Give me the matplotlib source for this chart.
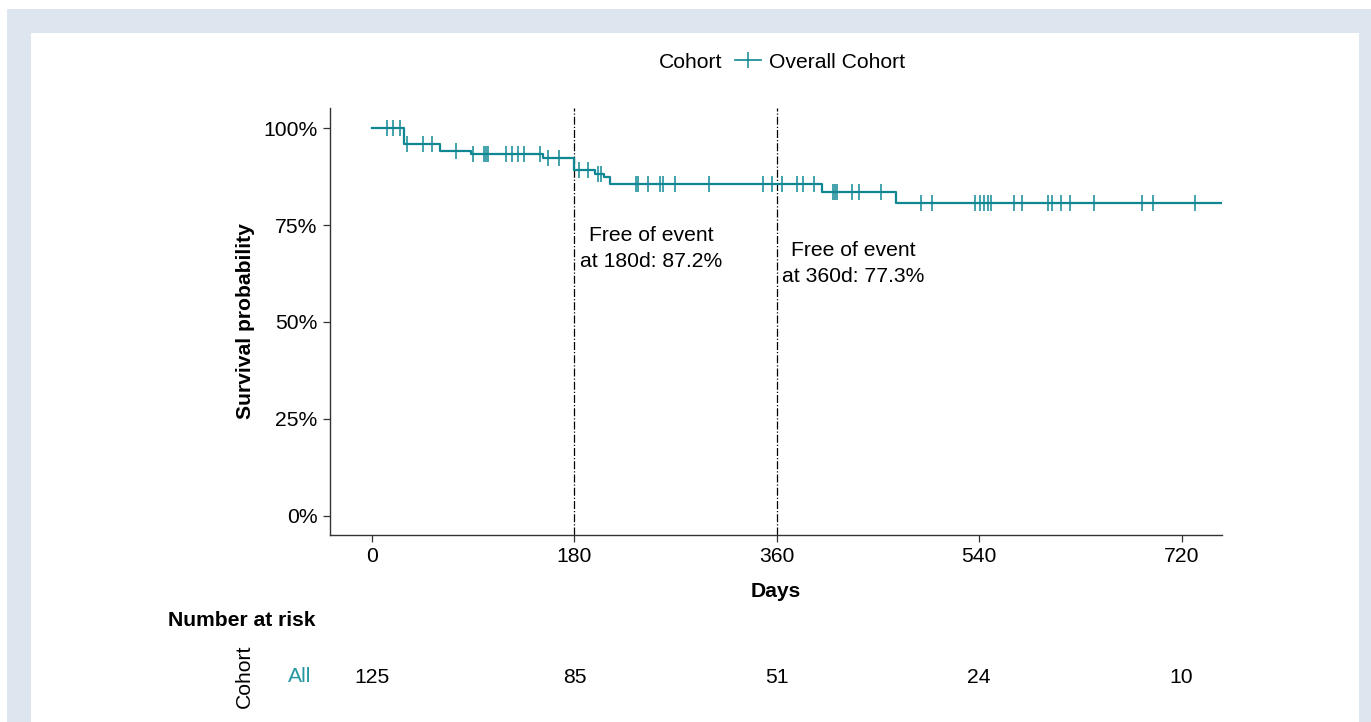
import numpy as np
import matplotlib
matplotlib.use('Agg')
import matplotlib.pyplot as plt
from matplotlib.patches import Rectangle
from matplotlib.ticker import FuncFormatter

plt.rcParams['font.family'] = ['Liberation Sans', 'DejaVu Sans']

# curva de Kaplan-Meier
t_evento = [0, 28.7, 60.5, 88, 152, 180, 198, 206.6, 211.6, 399.8, 465.6]
s_evento = [1.0, 0.958, 0.942, 0.932, 0.924, 0.892, 0.881, 0.874, 0.856, 0.835, 0.806]
t_final = 756

# tiempos censurados
t_censura = [13, 18.5, 24.5, 30.8, 45, 53, 75,
             89.5, 99.6, 101.4, 102.9, 119, 124, 130, 135, 149, 156, 166,
             184, 192, 201, 204,
             234.7, 236.5, 245.7, 256, 259, 269.4, 300, 348, 355.4, 365,
             377.6, 383.5, 393,
             409.6, 411.7, 413.7, 426.5, 432.7, 453,
             488, 497.6, 536, 540.6, 544.5, 548, 550.4, 570.8, 578.5,
             601.3, 604.6, 613.2, 621.2, 641.7, 684.4, 694.4, 731.7]

# tabla de riesgo
t_riesgo = [0, 180, 360, 540, 720]
n_riesgo = [125, 85, 51, 24, 10]

# anotaciones
t_anot = [180, 360]
txt_anot = ['Free of event\nat 180d: 87.2%', 'Free of event\nat 360d: 77.3%']
y_anot = [0.689, 0.650]

color = '#0f8793'
gris = '#333333'
fs = 15.2

fig = plt.figure(figsize=(13.71, 7.22), dpi=100)
fig.patch.set_facecolor('white')
fig.patches.append(Rectangle((7/1371, 0), 1 - 7/1371, 1 - 9/722, transform=fig.transFigure,
                             facecolor='#dde6ef', edgecolor='none', zorder=-10))
fig.patches.append(Rectangle((31/1371, 0), (1359 - 31)/1371, 1 - 33/722, transform=fig.transFigure,
                             facecolor='white', edgecolor='none', zorder=-9))

ax = fig.add_axes([330/1371, 1 - 535/722, (1222 - 330)/1371, (535 - 108)/722])
ax.set_facecolor('none')

# escalones
xs = list(t_evento) + [t_final]
ys = list(s_evento) + [s_evento[-1]]
ax.step(xs, ys, where='post', color=color, lw=1.6, zorder=3)

# marcas de censura
idx = np.searchsorted(t_evento, t_censura, side='right') - 1
s_censura = np.array(s_evento)[idx]
linea, = ax.plot(t_censura, s_censura, ls='none', marker='|', ms=12, mew=1.1, color=color, zorder=4)

for t, txt, y in zip(t_anot, txt_anot, y_anot):
    ax.axvline(t, color='black', lw=0.9, ls='-.', zorder=2)
    ax.text(t + 5, y, txt, ha='left', va='center', multialignment='center',
            fontsize=fs, linespacing=1.45)

ax.set_xlim(-37.5, 756)
ax.set_ylim(-0.05, 1.052)
ax.set_xticks(t_riesgo)
ax.set_yticks([0, 0.25, 0.5, 0.75, 1.0])
ax.yaxis.set_major_formatter(FuncFormatter(lambda v, p: f'{v*100:.0f}%'))
for s in ['top', 'right']:
    ax.spines[s].set_visible(False)
for s in ['left', 'bottom']:
    ax.spines[s].set_color(gris)
    ax.spines[s].set_linewidth(1.0)
ax.tick_params(direction='out', length=5, width=0.9, color=gris, labelsize=fs, pad=4)
ax.set_xlabel('Days', fontsize=fs, fontweight='bold', labelpad=11)
ax.set_ylabel('Survival probability', fontsize=fs, fontweight='bold', labelpad=6)

# leyenda
fig.text(722/1371, 1 - 62/722, 'Cohort', ha='right', va='center', fontsize=fs)
fig.legend(handles=[linea], labels=['Overall Cohort'], loc='center left',
           bbox_to_anchor=(735/1371, 1 - 62/722), frameon=False, fontsize=fs,
           handlelength=1.25, handletextpad=0.35, borderpad=0, borderaxespad=0)
linea_ley = fig.legends[0].legend_handles[0]
linea_ley.set_linestyle('-')
linea_ley.set_linewidth(1.2)

# tabla de numero en riesgo
ax2 = fig.add_axes([330/1371, 1 - 700/722, (1222 - 330)/1371, 50/722])
ax2.set_xlim(ax.get_xlim())
ax2.set_ylim(0, 1)
ax2.axis('off')
for t, n in zip(t_riesgo, n_riesgo):
    ax2.text(t, 0.45, str(n), ha='center', va='center', fontsize=fs)
fig.text(168/1371, 1 - 621/722, 'Number at risk', ha='left', va='center', fontsize=fs, fontweight='bold')
fig.text(300/1371, 1 - 677/722, 'All', ha='center', va='center', fontsize=fs, color='#2597a3')
fig.text(244/1371, 1 - 676/722, 'Cohort', ha='center', va='center', fontsize=fs, rotation=90)

fig.savefig('out.png', dpi=100, facecolor=fig.get_facecolor())
